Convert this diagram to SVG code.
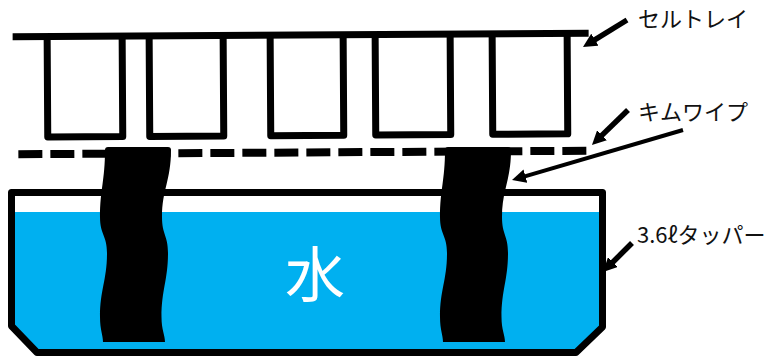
<svg xmlns="http://www.w3.org/2000/svg" width="768" height="356" viewBox="0 0 768 356">
  <style>
    .ink { fill: none; stroke: #000; stroke-linejoin: round; }
    .cell { fill: none; stroke: #000; stroke-width: 7; stroke-linejoin: round; }
    .label { font-family: "Noto Sans CJK JP", "Noto Sans", sans-serif; font-size: 22px; fill: #111; }
    .water-label { font-family: "Noto Sans CJK JP", "Noto Sans", sans-serif; font-size: 60px; fill: #fff; }
    .wick { fill: #000; }
    .arrow { stroke: #000; fill: none; marker-end: url(#head); }
  </style>
  <defs>
    <marker id="head" viewBox="0 0 14 14" refX="6" refY="7" markerWidth="14" markerHeight="14" markerUnits="userSpaceOnUse" orient="auto">
      <path d="M0,0 L14,7 L0,14 Z" fill="#000"/>
    </marker>
    <!-- wavy strip of wipe hanging into the water -->
    <path id="wick-shape" d="M105,150 Q105,147 108,147 L168,147 Q171,147 171,150 C171,180 162,190 162,217 C162,235 168,235 168,253 C168,280 161.5,290 161.5,317 C161.5,330 165,335 165,342 L103,342 C103,335 100,330 100,317 C100,290 107,280 107,253 C107,235 100,235 100,217 C100,190 105,180 105,150 Z"/>
  </defs>

  <!-- cell tray, slightly tilted -->
  <g id="cell-tray" transform="rotate(-0.35 300 95)">
    <path class="cell" d="M47.5,35 V135.5 H122.5 V35"/>
    <path class="cell" d="M149.5,35 V135.5 H223.5 V35"/>
    <path class="cell" d="M270.5,35 V135.5 H343.5 V35"/>
    <path class="cell" d="M375.5,35 V135.5 H450.5 V35"/>
    <path class="cell" d="M492.5,35 V135.5 H567.5 V35"/>
    <line x1="13" y1="35" x2="589" y2="35" stroke="#000" stroke-width="7"/>
  </g>

  <!-- wipe sheet under the tray -->
  <g id="wipe-sheet" transform="rotate(-0.35 300 95)">
    <line x1="18" y1="152.5" x2="590" y2="152.5" stroke="#000" stroke-width="8" stroke-dasharray="24 8"/>
  </g>

  <!-- container with water -->
  <g id="container">
    <path d="M11.5,212 H602.5 V327 L576,352.5 H37 L11.5,326 Z" fill="#00B0F0"/>
    <path class="ink" stroke-width="7" d="M11.5,192.5 H602.5 V327 L576,352.5 H37 L11.5,326 Z"/>
    <text class="water-label" x="315" y="297" text-anchor="middle">水</text>
  </g>

  <!-- wicks -->
  <g id="wick-left">
    <use href="#wick-shape" class="wick"/>
  </g>
  <g id="wick-right">
    <use href="#wick-shape" class="wick" transform="translate(340,0)"/>
  </g>

  <!-- leader arrows -->
  <g id="connectors">
    <line class="arrow" x1="627" y1="20" x2="589.8" y2="42.8" stroke-width="5.5"/>
    <line class="arrow" x1="628" y1="110" x2="597.7" y2="139.4" stroke-width="5.5"/>
    <line class="arrow" x1="683" y1="130" x2="519.7" y2="177.8" stroke-width="4"/>
    <line class="arrow" x1="632" y1="243" x2="608.7" y2="266.3" stroke-width="5.5"/>
  </g>

  <!-- labels -->
  <g id="label-tray"><text class="label" x="638" y="27">セルトレイ</text></g>
  <g id="label-wipe"><text class="label" x="638" y="120">キムワイプ</text></g>
  <g id="label-container"><text class="label" x="637" y="243">3.6ℓタッパー</text></g>
</svg>
